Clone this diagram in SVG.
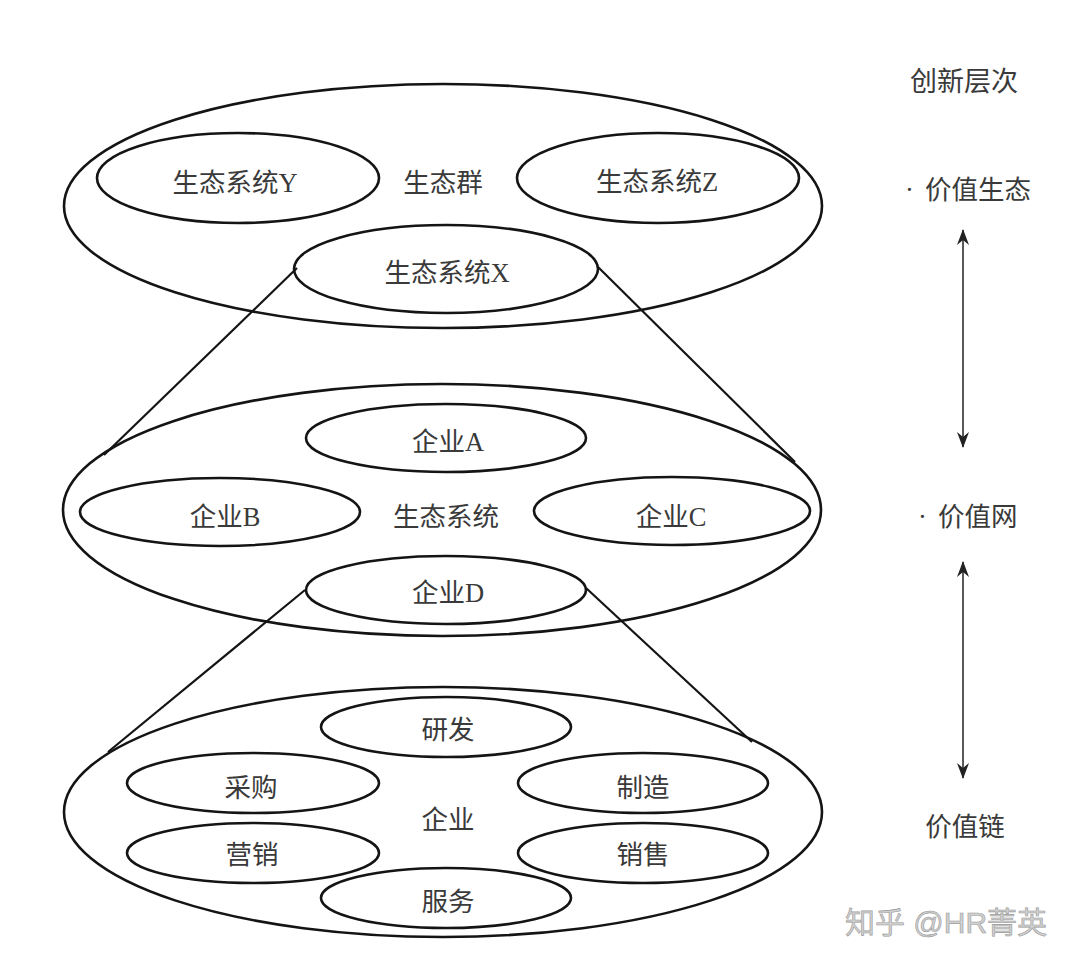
<svg xmlns="http://www.w3.org/2000/svg" width="1080" height="967" viewBox="0 0 1080 967">
<defs>
<style>
.e{fill:none;stroke:#141414;stroke-width:2.6}
.c{fill:none;stroke:#141414;stroke-width:2.2}
.a{fill:none;stroke:#222;stroke-width:1.5}
.t{font-family:"Liberation Serif","Noto Sans CJK SC",serif;font-size:26.5px;fill:#3a3a3a;text-anchor:middle;dominant-baseline:central}
.s{font-family:"Liberation Serif","Noto Sans CJK SC",serif;font-size:26.5px;fill:#3a3a3a;text-anchor:start;dominant-baseline:central}
.w{font-family:"Liberation Sans","Noto Sans CJK SC",sans-serif;font-size:30px;fill:#d0d0d0;stroke:#9a9a9a;stroke-width:0.6;text-anchor:middle;dominant-baseline:central}
</style>
<marker id="ah" viewBox="0 0 16 12" refX="15" refY="6" markerWidth="16" markerHeight="12" markerUnits="userSpaceOnUse" orient="auto-start-reverse">
<path d="M0,0 L16,6 L0,12 L5,6 Z" fill="#222"/>
</marker>
</defs>
<rect width="1080" height="967" fill="#fff"/>

<g id="connectors">
<line class="c" x1="297" y1="268" x2="104" y2="455"/>
<line class="c" x1="598" y1="267" x2="795" y2="462"/>
<line class="c" x1="305" y1="590" x2="108" y2="752"/>
<line class="c" x1="586" y1="588" x2="752" y2="742"/>
<line class="a" x1="963" y1="230" x2="963" y2="447" marker-start="url(#ah)" marker-end="url(#ah)"/>
<line class="a" x1="963" y1="562" x2="963" y2="778" marker-start="url(#ah)" marker-end="url(#ah)"/>
</g>

<g id="ecogroup">
<ellipse class="e" cx="443" cy="206" rx="379" ry="122"/>
<text class="t" x="443" y="183">生态群</text>
</g>
<g id="ecoY">
<ellipse class="e" cx="238" cy="178" rx="141" ry="45"/>
<text class="t" x="235" y="183">生态系统Y</text>
</g>
<g id="ecoZ">
<ellipse class="e" cx="658" cy="178" rx="141" ry="45"/>
<text class="t" x="657" y="182">生态系统Z</text>
</g>
<g id="ecoX">
<ellipse class="e" cx="446" cy="269" rx="152" ry="44"/>
<text class="t" x="447" y="273">生态系统X</text>
</g>

<g id="ecosystem">
<ellipse class="e" cx="442" cy="510" rx="379" ry="126"/>
<text class="t" x="446" y="517">生态系统</text>
</g>
<g id="firmA">
<ellipse class="e" cx="446" cy="438" rx="140" ry="34"/>
<text class="t" x="448" y="442">企业A</text>
</g>
<g id="firmB">
<ellipse class="e" cx="220" cy="512" rx="140" ry="34"/>
<text class="t" x="225" y="517">企业B</text>
</g>
<g id="firmC">
<ellipse class="e" cx="672" cy="511" rx="138" ry="34"/>
<text class="t" x="671" y="517">企业C</text>
</g>
<g id="firmD">
<ellipse class="e" cx="446" cy="590" rx="140" ry="34"/>
<text class="t" x="448" y="593">企业D</text>
</g>

<g id="firm">
<ellipse class="e" cx="443" cy="812" rx="379" ry="125"/>
<text class="t" x="448" y="820">企业</text>
</g>
<g id="rd">
<ellipse class="e" cx="446" cy="727" rx="125" ry="30"/>
<text class="t" x="448" y="730">研发</text>
</g>
<g id="purchase">
<ellipse class="e" cx="253" cy="783" rx="126" ry="30"/>
<text class="t" x="251" y="788">采购</text>
</g>
<g id="manufacture">
<ellipse class="e" cx="643" cy="783" rx="125" ry="30"/>
<text class="t" x="643" y="788">制造</text>
</g>
<g id="marketing">
<ellipse class="e" cx="253" cy="853" rx="126" ry="30"/>
<text class="t" x="252" y="855">营销</text>
</g>
<g id="sales">
<ellipse class="e" cx="643" cy="853" rx="125" ry="30"/>
<text class="t" x="643" y="855">销售</text>
</g>
<g id="service">
<ellipse class="e" cx="446" cy="898" rx="125" ry="30"/>
<text class="t" x="448" y="902">服务</text>
</g>

<g id="levels">
<text class="t" x="964" y="82" style="font-size:27px">创新层次</text>
<text class="s" y="190"><tspan x="905">·</tspan><tspan x="925">价值生态</tspan></text>
<text class="s" y="517"><tspan x="918">·</tspan><tspan x="938">价值网</tspan></text>
<text class="t" x="965" y="827">价值链</text>
</g>

<g id="watermark">
<text class="w" x="946" y="922">知乎 @HR菁英</text>
</g>
</svg>
